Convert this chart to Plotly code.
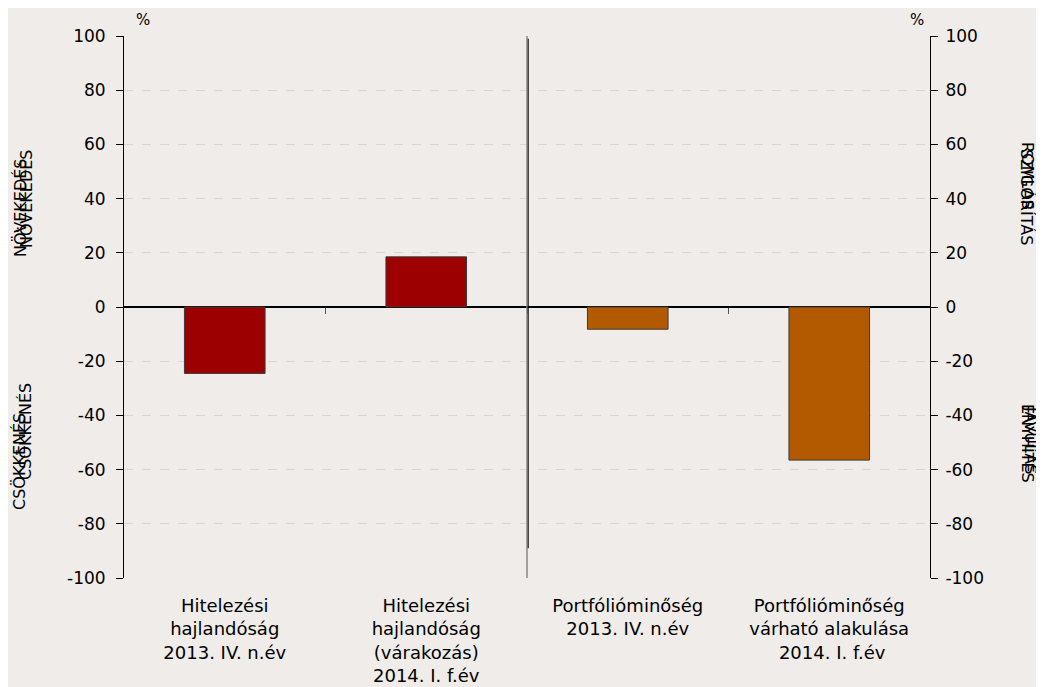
import plotly.graph_objects as go

# Data
categories = [
    'Hitelezési<br>hajlandóság<br>2013. IV. n.év',
    'Hitelezési<br>hajlandóság<br>(várakozás)<br>2014. I. f.év',
    'Portfólióminőség<br>2013. IV. n.év',
    'Portfólióminőség<br>várható alakulása<br> 2014. I. f.év',
]
values = [-24.5, 18.5, -8.2, -56.5]
bar_colors = ['#9C0000', '#9C0000', '#B35A00', '#B35A00']
y_ticks = [-100, -80, -60, -40, -20, 0, 20, 40, 60, 80, 100]
y_ticktext = [str(v) for v in y_ticks]
boundaries = [0.5, 1.5, 2.5]

FONT = 'DejaVu Sans'
BG = '#EFECE9'

fig = go.Figure()

fig.add_trace(go.Bar(
    x=list(range(len(categories))),
    y=values,
    width=0.4,
    marker=dict(color=bar_colors, line=dict(color='#3a3a3a', width=1)),
    hoverinfo='y',
    showlegend=False
))

# invisible trace so the secondary axes get drawn
fig.add_trace(go.Scatter(
    x=boundaries, y=[0] * len(boundaries), xaxis='x2', yaxis='y2',
    mode='markers', marker=dict(opacity=0), hoverinfo='skip', showlegend=False
))

axis_font = dict(family=FONT, size=17, color='black')

# the page has an 8px body margin, so the margins are shifted to compensate
fig.update_layout(
    width=1044, height=687,
    margin=dict(l=116, r=122, t=28, b=117),
    paper_bgcolor=BG, plot_bgcolor=BG,
    font=dict(family=FONT, size=16, color='black'),
    xaxis=dict(
        range=[-0.5, 3.5],
        tickvals=list(range(len(categories))),
        ticktext=categories,
        tickfont=dict(family=FONT, size=18, color='black'),
        showgrid=False, zeroline=False, showline=False,
        ticks='', ticklabelstandoff=15, automargin=False
    ),
    xaxis2=dict(
        overlaying='x', anchor='free', position=0.5,
        range=[-0.5, 3.5], tickvals=boundaries,
        ticks='outside', ticklen=6, tickcolor='#555', tickwidth=1,
        showticklabels=False, showgrid=False, zeroline=False, showline=False
    ),
    yaxis=dict(
        range=[-100, 100], tickvals=y_ticks, ticktext=y_ticktext,
        tickfont=axis_font, ticklabelstandoff=7, automargin=False,
        showline=True, linecolor='black', linewidth=1,
        ticks='outside', ticklen=7, tickcolor='black',
        showgrid=True, gridcolor='#D8D5D2', griddash='dash', gridwidth=1,
        zeroline=True, zerolinecolor='black', zerolinewidth=1.5
    ),
    yaxis2=dict(
        overlaying='y', side='right', anchor='x',
        range=[-100, 100], tickvals=y_ticks, ticktext=y_ticktext,
        tickfont=axis_font, ticklabelstandoff=4, automargin=False,
        showline=True, linecolor='black', linewidth=1,
        ticks='outside', ticklen=7, tickcolor='black',
        showgrid=False, zeroline=False
    ),
)

# divider between the two panels
fig.add_shape(type='line', xref='x', yref='y', x0=1.5, x1=1.5, y0=100, y1=-100,
              line=dict(color='#8a8a8a', width=1.5))
fig.add_shape(type='line', xref='x', yref='y', x0=1.506, x1=1.506, y0=99, y1=-89,
              line=dict(color='black', width=1))


def px_x(xpx):
    return (xpx - 124) / 806


def px_y(ypx):
    return (578 - ypx) / 542


# percent markers
for xpx in (143, 917):
    fig.add_annotation(text='%', xref='paper', yref='paper', x=px_x(xpx), y=px_y(20),
                       xanchor='center', yanchor='middle', showarrow=False,
                       font=dict(family=FONT, size=15))

side_labels = [
    ('NÖVEKEDÉS', 20, 208, -90),
    ('NÖVEKEDÉS', 26, 199, -90),
    ('CSÖKKENÉS', 19, 462, -90),
    ('CSÖKKENÉS', 25, 432, -90),
    ('SZIGORÍTÁS', 1026, 197, 90),
    ('ROMLÁS', 1028, 176, 90),
    ('ENYHÍTÉS', 1028, 444, 90),
    ('JAVULÁS', 1031, 440, 90),
]
for txt, xpx, ypx, ang in side_labels:
    fig.add_annotation(text=txt, xref='paper', yref='paper',
                       x=px_x(xpx), y=px_y(ypx), textangle=ang,
                       xanchor='center', yanchor='middle', showarrow=False,
                       font=dict(family=FONT, size=16, color='black'))

fig.write_html('out.html')
